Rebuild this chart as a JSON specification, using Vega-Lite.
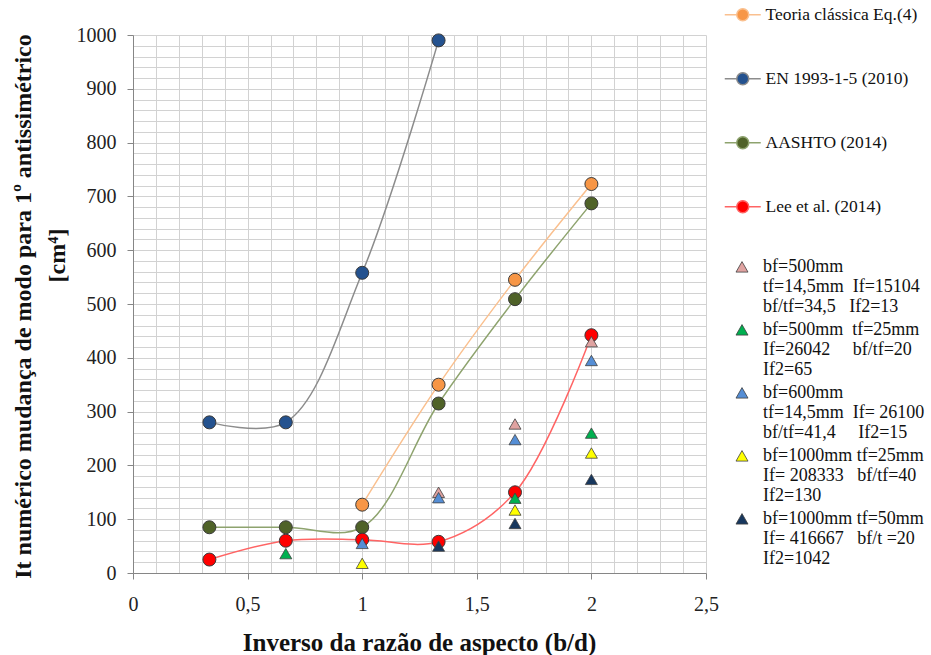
{
  "$schema": "https://vega.github.io/schema/vega-lite/v6.json",
  "width": 573,
  "height": 538,
  "autosize": {"type": "none"},
  "padding": {"left": 133, "top": 35, "right": 225, "bottom": 82},
  "background": "white",
  "config": {"view": {"stroke": null}, "font": "Liberation Serif"},
  "datasets": {
    "curves": [
      {"x": 1, "y": 127, "s": "Teoria clássica Eq.(4)"},
      {"x": 1.3333, "y": 350, "s": "Teoria clássica Eq.(4)"},
      {"x": 1.6667, "y": 545, "s": "Teoria clássica Eq.(4)"},
      {"x": 2, "y": 723, "s": "Teoria clássica Eq.(4)"},
      {"x": 0.3333, "y": 280, "s": "EN 1993-1-5 (2010)"},
      {"x": 0.6667, "y": 280, "s": "EN 1993-1-5 (2010)"},
      {"x": 1, "y": 558, "s": "EN 1993-1-5 (2010)"},
      {"x": 1.3333, "y": 990, "s": "EN 1993-1-5 (2010)"},
      {"x": 0.3333, "y": 85, "s": "AASHTO (2014)"},
      {"x": 0.6667, "y": 85, "s": "AASHTO (2014)"},
      {"x": 1, "y": 85, "s": "AASHTO (2014)"},
      {"x": 1.3333, "y": 315, "s": "AASHTO (2014)"},
      {"x": 1.6667, "y": 509, "s": "AASHTO (2014)"},
      {"x": 2, "y": 687, "s": "AASHTO (2014)"},
      {"x": 0.3333, "y": 25, "s": "Lee et al. (2014)"},
      {"x": 0.6667, "y": 60, "s": "Lee et al. (2014)"},
      {"x": 1, "y": 62, "s": "Lee et al. (2014)"},
      {"x": 1.3333, "y": 58, "s": "Lee et al. (2014)"},
      {"x": 1.6667, "y": 150, "s": "Lee et al. (2014)"},
      {"x": 2, "y": 442, "s": "Lee et al. (2014)"}
    ],
    "tri": [
      {"x": 1.3333, "y": 150, "g": "bf=500mm|tf=14,5mm\u00a0\u00a0If=15104|bf/tf=34,5\u00a0\u00a0\u00a0If2=13"},
      {"x": 1.6667, "y": 277, "g": "bf=500mm|tf=14,5mm\u00a0\u00a0If=15104|bf/tf=34,5\u00a0\u00a0\u00a0If2=13"},
      {"x": 2, "y": 430, "g": "bf=500mm|tf=14,5mm\u00a0\u00a0If=15104|bf/tf=34,5\u00a0\u00a0\u00a0If2=13"},
      {"x": 0.6667, "y": 36, "g": "bf=500mm\u00a0\u00a0tf=25mm|If=26042\u00a0\u00a0\u00a0\u00a0\u00a0bf/tf=20|If2=65"},
      {"x": 1.6667, "y": 139, "g": "bf=500mm\u00a0\u00a0tf=25mm|If=26042\u00a0\u00a0\u00a0\u00a0\u00a0bf/tf=20|If2=65"},
      {"x": 2, "y": 260, "g": "bf=500mm\u00a0\u00a0tf=25mm|If=26042\u00a0\u00a0\u00a0\u00a0\u00a0bf/tf=20|If2=65"},
      {"x": 1, "y": 55, "g": "bf=600mm|tf=14,5mm\u00a0\u00a0If=\u00a026100|bf/tf=41,4\u00a0\u00a0\u00a0\u00a0\u00a0If2=15"},
      {"x": 1.3333, "y": 140, "g": "bf=600mm|tf=14,5mm\u00a0\u00a0If=\u00a026100|bf/tf=41,4\u00a0\u00a0\u00a0\u00a0\u00a0If2=15"},
      {"x": 1.6667, "y": 248, "g": "bf=600mm|tf=14,5mm\u00a0\u00a0If=\u00a026100|bf/tf=41,4\u00a0\u00a0\u00a0\u00a0\u00a0If2=15"},
      {"x": 2, "y": 395, "g": "bf=600mm|tf=14,5mm\u00a0\u00a0If=\u00a026100|bf/tf=41,4\u00a0\u00a0\u00a0\u00a0\u00a0If2=15"},
      {"x": 1, "y": 18, "g": "bf=1000mm tf=25mm|If=\u00a0208333\u00a0\u00a0\u00a0bf/tf=40|If2=130"},
      {"x": 1.6667, "y": 117, "g": "bf=1000mm tf=25mm|If=\u00a0208333\u00a0\u00a0\u00a0bf/tf=40|If2=130"},
      {"x": 2, "y": 223, "g": "bf=1000mm tf=25mm|If=\u00a0208333\u00a0\u00a0\u00a0bf/tf=40|If2=130"},
      {"x": 1.3333, "y": 50, "g": "bf=1000mm tf=50mm|If=\u00a0416667\u00a0\u00a0\u00a0bf/t\u00a0=20|If2=1042"},
      {"x": 1.6667, "y": 92, "g": "bf=1000mm tf=50mm|If=\u00a0416667\u00a0\u00a0\u00a0bf/t\u00a0=20|If2=1042"},
      {"x": 2, "y": 174, "g": "bf=1000mm tf=50mm|If=\u00a0416667\u00a0\u00a0\u00a0bf/t\u00a0=20|If2=1042"}
    ]
  },
  "layer": [
    {
      "data": {"name": "curves"},
      "mark": {"type": "line", "interpolate": "catmull-rom", "strokeWidth": 1.5},
      "encoding": {
        "x": {
          "field": "x", "type": "quantitative",
          "scale": {"domain": [0, 2.5], "nice": false, "zero": false},
          "axis": {
            "values": [0,0.1,0.2,0.3,0.4,0.5,0.6,0.7,0.8,0.9,1,1.1,1.2,1.3,1.4,1.5,1.6,1.7,1.8,1.9,2,2.1,2.2,2.3,2.4,2.5],
            "tickCount": 200,
            "labelExpr": "abs(datum.value*2 - round(datum.value*2)) < 0.01 ? replace(format(datum.value, '.1~f'), '.', ',') : ''",
            "labelOverlap": false,
            "labelFlush": false,
            "labelFont": "Liberation Serif",
            "labelFontSize": 20,
            "labelColor": "#222222",
            "labelPadding": 15,
            "tickSize": 6,
            "tickColor": "#868686",
            "tickOpacity": {"condition": {"test": "abs(datum.value*2 - round(datum.value*2)) < 0.01", "value": 1}, "value": 0},
            "domainColor": "#868686",
            "grid": true,
            "gridColor": "#D2D2D2",
            "gridWidth": 1,
            "title": "Inverso da razão de aspecto (b/d)",
            "titleFont": "Liberation Serif",
            "titleFontSize": 25,
            "titleFontWeight": "bold",
            "titleColor": "#111111",
            "titleBaseline": "middle",
            "titleX": 286,
            "titleY": 69
          }
        },
        "y": {
          "field": "y", "type": "quantitative",
          "scale": {"domain": [0, 1000], "nice": false},
          "axis": {
            "values": [0,20,40,60,80,100,120,140,160,180,200,220,240,260,280,300,320,340,360,380,400,420,440,460,480,500,520,540,560,580,600,620,640,660,680,700,720,740,760,780,800,820,840,860,880,900,920,940,960,980,1000],
            "tickCount": 200,
            "labelExpr": "datum.value % 100 === 0 ? datum.label : ''",
            "labelOverlap": false,
            "labelFlush": false,
            "labelFont": "Liberation Serif",
            "labelFontSize": 20,
            "labelColor": "#222222",
            "labelPadding": 11,
            "tickSize": 6,
            "tickColor": "#868686",
            "tickOpacity": {"condition": {"test": "datum.value % 100 === 0", "value": 1}, "value": 0},
            "domainColor": "#868686",
            "grid": true,
            "gridColor": "#D2D2D2",
            "gridWidth": 1,
            "format": "d",
            "title": ["It numérico mudança de modo para 1º antissimétrico", "\u200b\u00a0\u00a0\u00a0\u00a0\u00a0\u00a0\u00a0\u00a0\u00a0\u00a0\u00a0\u00a0\u00a0\u00a0\u00a0\u00a0\u00a0[cm⁴]"],
            "titleFont": "Liberation Serif",
            "titleFontSize": 24,
            "titleFontWeight": "bold",
            "titleColor": "#111111",
            "titleLineHeight": 34,
            "titleBaseline": "middle",
            "titleAngle": -90,
            "titleX": -110,
            "titleY": 271
          }
        },
        "stroke": {
          "field": "s", "type": "nominal",
          "scale": {
            "domain": ["Teoria clássica Eq.(4)", "EN 1993-1-5 (2010)", "AASHTO (2014)", "Lee et al. (2014)"],
            "range": ["#FAC08F", "#8C8C8C", "#8EA36E", "#FF6464"]
          },
          "legend": {
            "orient": "none", "legendX": 601, "legendY": -29, "title": null, "padding": 0,
            "symbolType": "M-3,0L-1,0M1,0L3,0M1,0A1,1,0,1,1,-1,0A1,1,0,1,1,1,0Z",
            "symbolSize": 144, "symbolStrokeWidth": 1.5, "symbolOpacity": 1,
            "labelFont": "Liberation Serif", "labelFontSize": 17.5, "labelColor": "#111111",
            "labelOffset": 14, "rowPadding": 45, "labelLimit": 300
          }
        }
      }
    },
    {
      "data": {"name": "curves"},
      "mark": {"type": "point", "shape": "circle", "filled": true, "size": 169, "stroke": "#3A3A3A", "strokeWidth": 1, "opacity": 1},
      "encoding": {
        "x": {"field": "x", "type": "quantitative"},
        "y": {"field": "y", "type": "quantitative"},
        "fill": {
          "field": "s", "type": "nominal",
          "scale": {
            "domain": ["Teoria clássica Eq.(4)", "EN 1993-1-5 (2010)", "AASHTO (2014)", "Lee et al. (2014)"],
            "range": ["#F79646", "#24528F", "#4F6228", "#FF0000"]
          },
          "legend": {
            "orient": "none", "legendX": 601, "legendY": -29, "title": null, "padding": 0,
            "symbolType": "M-3,0L-1,0M1,0L3,0M1,0A1,1,0,1,1,-1,0A1,1,0,1,1,1,0Z",
            "symbolSize": 144, "symbolStrokeWidth": 1.5, "symbolOpacity": 1,
            "labelFont": "Liberation Serif", "labelFontSize": 17.5, "labelColor": "#111111",
            "labelOffset": 14, "rowPadding": 45, "labelLimit": 300
          }
        }
      }
    },
    {
      "data": {"name": "tri"},
      "mark": {"type": "point", "shape": "triangle-up", "filled": true, "size": 144, "stroke": "#404040", "strokeWidth": 0.8, "opacity": 1},
      "encoding": {
        "x": {"field": "x", "type": "quantitative"},
        "y": {"field": "y", "type": "quantitative"},
        "color": {
          "field": "g", "type": "nominal",
          "scale": {
            "domain": [
              "bf=500mm|tf=14,5mm\u00a0\u00a0If=15104|bf/tf=34,5\u00a0\u00a0\u00a0If2=13",
              "bf=500mm\u00a0\u00a0tf=25mm|If=26042\u00a0\u00a0\u00a0\u00a0\u00a0bf/tf=20|If2=65",
              "bf=600mm|tf=14,5mm\u00a0\u00a0If=\u00a026100|bf/tf=41,4\u00a0\u00a0\u00a0\u00a0\u00a0If2=15",
              "bf=1000mm tf=25mm|If=\u00a0208333\u00a0\u00a0\u00a0bf/tf=40|If2=130",
              "bf=1000mm tf=50mm|If=\u00a0416667\u00a0\u00a0\u00a0bf/t\u00a0=20|If2=1042"
            ],
            "range": ["#E0A3A1", "#00B050", "#558ED5", "#FFFF00", "#17375E"]
          },
          "legend": {
            "orient": "none", "legendX": 600, "legendY": 223, "title": null, "padding": 0,
            "symbolType": "M0,-0.9L1,0.85L-1,0.85Z",
            "symbolSize": 144, "symbolStrokeColor": "#404040", "symbolStrokeWidth": 0.8, "symbolOpacity": 1,
            "labelExpr": "split(datum.label, '|')",
            "labelFont": "Liberation Serif", "labelFontSize": 18, "labelColor": "#111111",
            "labelBaseline": "middle",
            "labelOffset": 12, "rowPadding": 5, "labelLimit": 300
          }
        }
      }
    }
  ]
}
